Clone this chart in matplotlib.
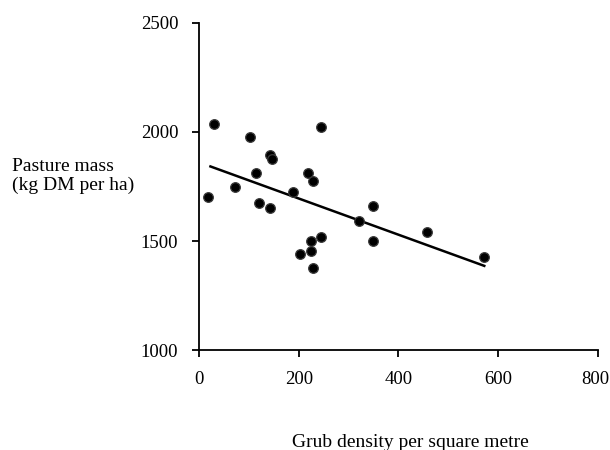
import matplotlib
matplotlib.use('Agg')
import matplotlib.pyplot as plt
import matplotlib.transforms as mtransforms
import numpy as np

# grub density (per m2) and pasture mass (kg DM/ha)
grubs = np.array([31, 19, 73, 102, 114, 120, 142, 147, 143, 189, 218, 229,
                  245, 320, 348, 348, 245, 225, 225, 202, 229, 458, 572])
pasture = np.array([2036, 1702, 1748, 1976, 1813, 1675, 1896, 1876, 1652, 1727, 1810, 1773,
                    2021, 1592, 1659, 1501, 1520, 1501, 1455, 1440, 1374, 1543, 1426])

# fitted line end points
line_x = [23, 572]
line_y = [1842, 1386]

x_ticks = [0, 200, 400, 600, 800]
y_ticks = [1000, 1500, 2000, 2500]

plt.rcParams['font.family'] = ['Liberation Serif', 'DejaVu Serif']
fs = 14

fig = plt.figure(figsize=(6.1, 4.5), dpi=100)
ax = fig.add_axes([0.3262, 0.2222, 0.6541, 0.7267])

ax.plot(line_x, line_y, color='black', linewidth=1.8, zorder=2)
ax.scatter(grubs, pasture, s=48, color='black', edgecolors='#3a3a3a',
           linewidths=0.9, zorder=3)

ax.set_xlim(0, 800)
ax.set_ylim(1000, 2500)
ax.set_xticks(x_ticks)
ax.set_yticks(y_ticks)
ax.spines['top'].set_visible(False)
ax.spines['right'].set_visible(False)
for s in ['left', 'bottom']:
    ax.spines[s].set_linewidth(1.3)
ax.tick_params(direction='out', length=5, width=1.3, labelsize=13.5)
ax.tick_params(axis='y', pad=10)
ax.tick_params(axis='x', pad=10)

# last x label sits slightly left so it stays inside the figure
fig.canvas.draw()
last = ax.get_xticklabels()[-1]
last.set_transform(last.get_transform() +
                   mtransforms.ScaledTranslation(-3 / 100, 0, fig.dpi_scale_trans))

fig.text(12 / 610, 1 - 176 / 450, 'Pasture mass\n(kg DM per ha)', fontsize=fs,
         ha='left', va='center', linespacing=1.15)
fig.text(410 / 610, 1 - 447 / 450, 'Grub density per square metre', fontsize=fs,
         ha='center', va='baseline')

fig.savefig('out.png', dpi=100)
